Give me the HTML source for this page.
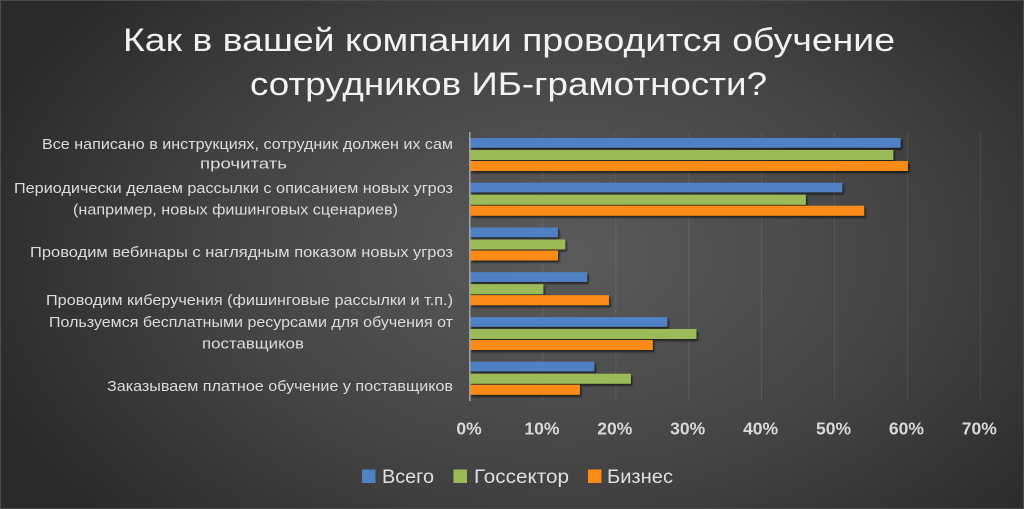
<!DOCTYPE html>
<html><head><meta charset="utf-8">
<style>
html,body{margin:0;padding:0;background:#2b2b2b;}
body{width:1024px;height:509px;overflow:hidden;}
svg{display:block;}
text{font-family:"Liberation Sans","Noto Sans CJK SC",sans-serif;}
</style></head>
<body>
<svg width="1024" height="509" viewBox="0 0 1024 509" xmlns="http://www.w3.org/2000/svg">
<defs>
<radialGradient id="bg" cx="0.55" cy="0.5" r="0.6" gradientUnits="objectBoundingBox" gradientTransform="translate(0.55,0.5) scale(1,1.3) translate(-0.55,-0.5)">
<stop offset="0" stop-color="#5b5b5b"/>
<stop offset="0.55" stop-color="#444"/>
<stop offset="1" stop-color="#2a2a2a"/>
</radialGradient>
<filter id="sh" x="-5%" y="-50%" width="110%" height="220%">
<feDropShadow dx="1.5" dy="2" stdDeviation="1" flood-color="#000" flood-opacity="0.6"/>
</filter>
</defs>
<rect x="0" y="0" width="1024" height="509" fill="url(#bg)"/>
<rect x="0.5" y="0.5" width="1023" height="508" fill="none" stroke="#4a4a4a" stroke-width="1"/>

<!-- title -->
<g fill="#f2f2f2" font-size="32">
<text x="123" y="51" textLength="772" lengthAdjust="spacingAndGlyphs">Как в вашей компании проводится обучение</text>
<text x="250" y="95" textLength="517" lengthAdjust="spacingAndGlyphs">сотрудников ИБ-грамотности?</text>
</g>

<!-- gridlines -->
<g stroke="#ffffff" stroke-opacity="0.09" stroke-width="1">
<line x1="542.9" y1="132" x2="542.9" y2="401"/>
<line x1="615.8" y1="132" x2="615.8" y2="401"/>
<line x1="688.7" y1="132" x2="688.7" y2="401"/>
<line x1="761.6" y1="132" x2="761.6" y2="401"/>
<line x1="834.5" y1="132" x2="834.5" y2="401"/>
<line x1="907.4" y1="132" x2="907.4" y2="401"/>
<line x1="980.3" y1="132" x2="980.3" y2="401"/>
</g>

<!-- bars: x0=470.5, 1% = 7.29px -->
<g filter="url(#sh)">
<!-- G1 -->
<rect x="470.5" y="138" width="430.1" height="9.7" fill="#4f81c4"/>
<rect x="470.5" y="150" width="422.8" height="10" fill="#9bbb59"/>
<rect x="470.5" y="161" width="437.4" height="10" fill="#fb8b14"/>
<!-- G2 -->
<rect x="470.5" y="182.7" width="371.8" height="9.7" fill="#4f81c4"/>
<rect x="470.5" y="194.7" width="335.3" height="10" fill="#9bbb59"/>
<rect x="470.5" y="205.7" width="393.7" height="10" fill="#fb8b14"/>
<!-- G3 -->
<rect x="470.5" y="227.5" width="87.5" height="9.7" fill="#4f81c4"/>
<rect x="470.5" y="239.5" width="94.8" height="10" fill="#9bbb59"/>
<rect x="470.5" y="250.5" width="87.5" height="10" fill="#fb8b14"/>
<!-- G4 -->
<rect x="470.5" y="272.2" width="116.6" height="9.7" fill="#4f81c4"/>
<rect x="470.5" y="284.2" width="72.9" height="10" fill="#9bbb59"/>
<rect x="470.5" y="295.2" width="138.5" height="10" fill="#fb8b14"/>
<!-- G5 -->
<rect x="470.5" y="317" width="196.8" height="9.7" fill="#4f81c4"/>
<rect x="470.5" y="329" width="226" height="10" fill="#9bbb59"/>
<rect x="470.5" y="340" width="182.3" height="10" fill="#fb8b14"/>
<!-- G6 -->
<rect x="470.5" y="361.7" width="123.9" height="9.7" fill="#4f81c4"/>
<rect x="470.5" y="373.7" width="160.4" height="10" fill="#9bbb59"/>
<rect x="470.5" y="384.8" width="109.4" height="10" fill="#fb8b14"/>
</g>

<!-- axis -->
<line x1="469.8" y1="132" x2="469.8" y2="401" stroke="#b0b0b0" stroke-width="1.3"/>

<!-- category labels -->
<g fill="#dcdcdc" font-size="14.5" text-anchor="end">
<text x="453" y="149" textLength="411" lengthAdjust="spacingAndGlyphs">Все написано в инструкциях, сотрудник должен их сам</text>
<text x="243.5" y="168.5" text-anchor="middle" textLength="87" lengthAdjust="spacingAndGlyphs">прочитать</text>
<text x="453" y="193" textLength="439" lengthAdjust="spacingAndGlyphs">Периодически делаем рассылки с описанием новых угроз</text>
<text x="235.5" y="214.5" text-anchor="middle" textLength="325" lengthAdjust="spacingAndGlyphs">(например, новых фишинговых сценариев)</text>
<text x="453" y="257" textLength="423" lengthAdjust="spacingAndGlyphs">Проводим вебинары с наглядным показом новых угроз</text>
<text x="453" y="305" textLength="407" lengthAdjust="spacingAndGlyphs">Проводим киберучения (фишинговые рассылки и т.п.)</text>
<text x="453" y="327" textLength="404" lengthAdjust="spacingAndGlyphs">Пользуемся бесплатными ресурсами для обучения от</text>
<text x="253" y="348.5" text-anchor="middle" textLength="102" lengthAdjust="spacingAndGlyphs">поставщиков</text>
<text x="453" y="391" textLength="346" lengthAdjust="spacingAndGlyphs">Заказываем платное обучение у поставщиков</text>
</g>

<!-- tick labels -->
<g fill="#d8d8d8" font-size="17.5" font-weight="bold" text-anchor="middle">
<text x="469" y="434.5">0%</text>
<text x="541.9" y="434.5">10%</text>
<text x="614.8" y="434.5">20%</text>
<text x="687.7" y="434.5">30%</text>
<text x="760.6" y="434.5">40%</text>
<text x="833.5" y="434.5">50%</text>
<text x="906.4" y="434.5">60%</text>
<text x="979.3" y="434.5">70%</text>
</g>

<!-- legend -->
<rect x="362" y="469.5" width="13.5" height="13.5" fill="#4f81c4"/>
<rect x="453.5" y="469.5" width="13.5" height="13.5" fill="#9bbb59"/>
<rect x="588" y="469.5" width="13.5" height="13.5" fill="#fb8b14"/>
<g fill="#e0e0e0" font-size="19">
<text x="382" y="483" textLength="52" lengthAdjust="spacingAndGlyphs">Всего</text>
<text x="474" y="483" textLength="95" lengthAdjust="spacingAndGlyphs">Госсектор</text>
<text x="607" y="483" textLength="66" lengthAdjust="spacingAndGlyphs">Бизнес</text>
</g>
</svg>
</body></html>
